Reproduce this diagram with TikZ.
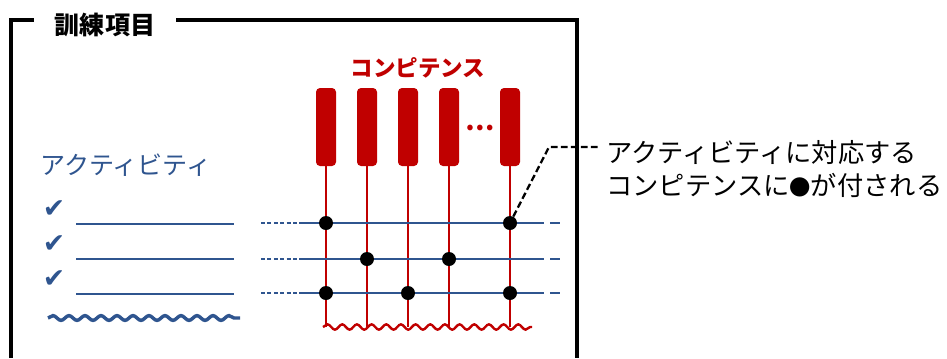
\documentclass[tikz,border=0pt]{standalone}
\usepackage{fontspec}
\setmainfont{Noto Sans CJK JP}
\newfontfamily\symfont{DejaVu Sans}
\usepackage{tikz}
\usetikzlibrary{positioning,decorations.pathmorphing}
\definecolor{compred}{RGB}{192,0,0}
\definecolor{actblue}{RGB}{47,85,143}

\begin{document}
\begin{tikzpicture}[x=0.75pt,y=-0.75pt,
  frame/.style={line width=2.6pt},
  bar/.style={fill=compred, rounded corners=3pt, minimum width=15pt, minimum height=58.5pt, inner sep=0pt},
  hit/.style={circle, fill=black, minimum size=10.5pt, inner sep=0pt},
  wave/.style={decorate, decoration={snake, amplitude=2pt, segment length=11pt}},
  tick/.style={text=actblue, font=\symfont\fontsize{20}{20}\selectfont, inner sep=0pt}]
  \useasboundingbox (0,0) rectangle (947,358);

  \draw[frame] (11,358) -- (11,20) -- (577,20) -- (577,358);
  \node[fill=white, inner xsep=16pt, font=\bfseries\fontsize{18.8}{20}\selectfont] (title) at (105,25) {訓練項目};

  % activity list
  \node[anchor=west, text=actblue, font=\fontsize{18.8}{20}\selectfont, inner sep=0pt] (act) at (40,165) {アクティビティ};
  \foreach \y [count=\i] in {224,259,294} {
    \node[tick] (ck\i) at (54,\y-15) {✔};
    \coordinate (la\i) at (76,\y);
    \coordinate (lb\i) at (234,\y);
    \draw[actblue, line width=1.5pt] (la\i) -- (lb\i);
  }
  \coordinate (wa) at (48,318);
  \coordinate (wb) at (240,318);
  \draw[actblue, line width=2.6pt, wave, decoration={amplitude=1.8pt, segment length=12pt}] (wa) -- (wb);

  % competences
  \node[text=compred, font=\bfseries\fontsize{16.9}{18}\selectfont] (comp) at (418,68) {コンピテンス};
  \foreach \x [count=\i] in {326,367,408,449,510} {
    \node[bar] (b\i) at (\x,127) {};
    \coordinate (c\i) at (\x,327);
    \draw[compred, line width=1.7pt] (b\i.south) -- (c\i);
  }
  \node[text=compred, font=\bfseries\fontsize{19.5}{20}\selectfont, inner sep=0pt] (more) at (480,128) {…};
  \draw[compred, line width=1.8pt, wave] (323,327) -- (532,327);

  % activity rows
  \foreach \y [count=\j] in {223,259,293} {
    \coordinate (r\j w) at (261,\y);
    \coordinate (r\j a) at (303,\y);
    \coordinate (r\j e) at (535,\y);
    \coordinate (r\j d) at (560,\y);
    \draw[actblue, line width=1.8pt, dash pattern=on 3pt off 1.8pt] (r\j w) -- (r\j a);
    \draw[actblue, line width=2pt] (r\j a) -- (r\j e);
    \draw[actblue, line width=1.5pt, dash pattern=on 7pt off 4.5pt] (r\j e) -- (r\j d);
  }

  \node[hit] (d-1-1) at (b1 |- r1a) {};
  \node[hit] (d-1-5) at (b5 |- r1a) {};
  \node[hit] (d-2-2) at (b2 |- r2a) {};
  \node[hit] (d-2-4) at (b4 |- r2a) {};
  \node[hit] (d-3-1) at (b1 |- r3a) {};
  \node[hit] (d-3-3) at (b3 |- r3a) {};
  \node[hit] (d-3-5) at (b5 |- r3a) {};

  % note
  \node[anchor=west, align=left, inner xsep=0pt, font=\fontsize{19.7}{24.8}\selectfont] (note) at (606,169)
    {アクティビティに対応する\\コンピテンスに{\fontsize{16}{16}\selectfont ●}が付される};
  \coordinate (bend) at (549,147);
  \draw[line width=1.7pt, dash pattern=on 5pt off 2.5pt, shorten >=6pt] (d-1-5) -- (bend) -- (bend -| note.west);
\end{tikzpicture}
\end{document}
